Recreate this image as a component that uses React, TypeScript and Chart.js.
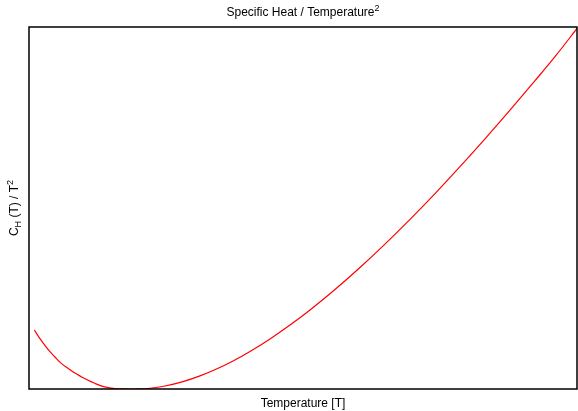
import React, { useEffect, useRef } from "react";
import { Chart, registerables } from "chart.js";

Chart.register(...registerables);

const temperature = [
  0.097, 0.19, 0.286, 0.374, 0.469, 0.584, 0.712, 0.83, 0.954, 1.077, 1.199, 1.314, 1.442, 1.569, 1.715, 1.861,
  2.026, 2.208, 2.482, 2.81, 3.12, 3.431, 3.723, 4.033, 4.398, 4.763, 5.128, 5.584, 6.04, 6.496, 6.953, 7.409,
  7.865, 8.321, 8.777, 9.234, 9.617, 10.0,
];
const heatOverT2 = [
  1.63, 1.41, 1.215, 1.044, 0.892, 0.715, 0.572, 0.447, 0.34, 0.24, 0.157, 0.088, 0.036, 0.011, 0.002, 0.0,
  0.0024, 0.021, 0.082, 0.203, 0.361, 0.558, 0.774, 1.036, 1.382, 1.765, 2.182, 2.747, 3.356, 4.003, 4.685, 5.398,
  6.141, 6.909, 7.702, 8.517, 9.215, 9.96,
];

const titleText = "Specific Heat / Temperature";
const xTitle = "Temperature [T]";

type Seg = { t: string; size: number; dy: number };

function segWidth(ctx: CanvasRenderingContext2D, segs: Seg[]) {
  let w = 0;
  for (const s of segs) {
    ctx.font = `${s.size}px "Liberation Sans", Arial, sans-serif`;
    w += ctx.measureText(s.t).width;
  }
  return w;
}

function drawSegs(ctx: CanvasRenderingContext2D, segs: Seg[], cx: number, baseline: number) {
  const w = segWidth(ctx, segs);
  let x = cx - w / 2;
  ctx.textAlign = "left";
  ctx.textBaseline = "alphabetic";
  for (const s of segs) {
    ctx.font = `${s.size}px "Liberation Sans", Arial, sans-serif`;
    ctx.fillText(s.t, x, baseline + s.dy);
    x += ctx.measureText(s.t).width;
  }
}

const decorPlugin = {
  id: "decor",
  afterDraw(chart: any) {
    const ctx: CanvasRenderingContext2D = chart.ctx;
    const a = chart.chartArea;
    ctx.save();
    ctx.strokeStyle = "#000";
    ctx.lineWidth = 1.5;
    ctx.strokeRect(a.left, a.top, a.right - a.left, a.bottom - a.top);
    ctx.fillStyle = "#000";
    const cx = (a.left + a.right) / 2;
    drawSegs(ctx, [
      { t: titleText, size: 12, dy: 0 },
      { t: "2", size: 9, dy: -5 },
    ], cx, 16);
    drawSegs(ctx, [{ t: xTitle, size: 12, dy: 0 }], cx, 407);
    ctx.translate(18, (a.top + a.bottom) / 2);
    ctx.rotate(-Math.PI / 2);
    drawSegs(ctx, [
      { t: "C", size: 12, dy: 0 },
      { t: "H", size: 9, dy: 3 },
      { t: " (T) / T", size: 12, dy: 0 },
      { t: "2", size: 9, dy: -5 },
    ], 0, 0);
    ctx.restore();
  },
};

export default function App() {
  const ref = useRef<HTMLCanvasElement>(null);
  useEffect(() => {
    if (!ref.current) return;
    const chart = new Chart(ref.current, {
      type: "line",
      data: {
        datasets: [
          {
            data: temperature.map((t, i) => ({ x: t, y: heatOverT2[i] })),
            borderColor: "#ff0000",
            borderWidth: 1.2,
            pointRadius: 0,
            cubicInterpolationMode: "monotone",
            fill: false,
          },
        ],
      },
      options: {
        animation: false,
        responsive: false,
        devicePixelRatio: 1,
        layout: { padding: { left: 29, top: 27, right: 1, bottom: 22 } },
        plugins: { legend: { display: false }, title: { display: false }, tooltip: { enabled: false } },
        scales: {
          x: { type: "linear", min: 0, max: 10, display: false },
          y: { type: "linear", min: 0, max: 10, display: false },
        },
      },
      plugins: [decorPlugin],
    });
    return () => chart.destroy();
  }, []);
  return (
    <div style={{ position: "absolute", left: 0, top: 0, width: 578, height: 411, background: "#fff" }}>
      <canvas ref={ref} width={578} height={411} style={{ display: "block" }} />
    </div>
  );
}
